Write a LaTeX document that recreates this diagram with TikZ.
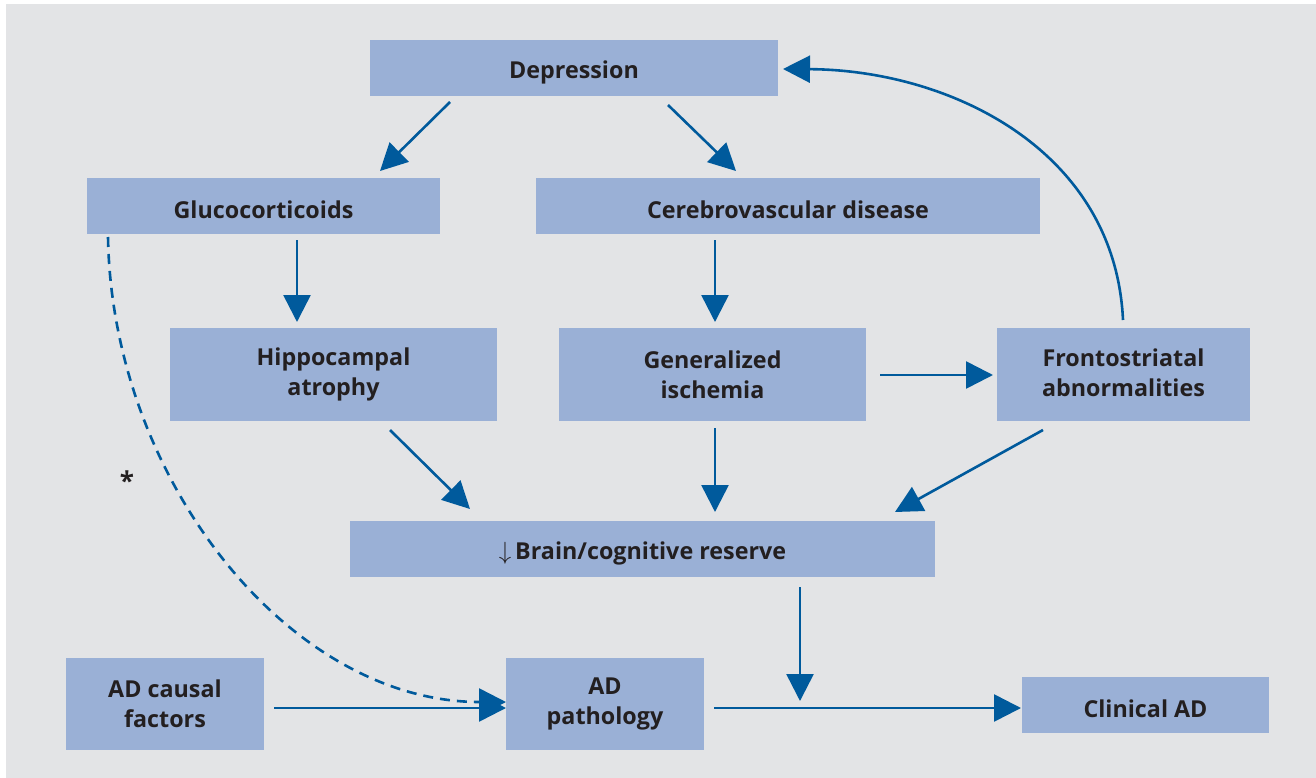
\documentclass[tikz,border=0pt]{standalone}
\usepackage{fontspec}
\setmainfont{Open Sans}
\usetikzlibrary{arrows.meta,calc}
\definecolor{bg}{HTML}{E3E4E6}
\definecolor{boxc}{HTML}{9AB0D6}
\definecolor{arrc}{HTML}{005A9C}
\definecolor{txt}{HTML}{231F20}
\newcommand{\lowr}[1]{\raisebox{-4pt}[\height][\depth]{#1}}
\tikzset{
  box/.style={fill=boxc, inner sep=0pt, align=center, text=txt,
    font=\bfseries\fontsize{23.3}{30}\selectfont},
  arr/.style={draw=arrc, line width=2.6pt, -{Triangle[length=27pt,width=27pt]}},
  dash arr/.style={draw=arrc, line width=2.6pt, dash pattern=on 10pt off 7pt,
    -{Triangle[length=27pt,width=27pt]}}
}
\begin{document}
\begin{tikzpicture}[x=1pt,y=-1pt]
\useasboundingbox (0,0) rectangle (1316,778);
\fill[white] (0,0) rectangle (1316,778);
\fill[bg] (6,4) rectangle (1316,778);

\node[box, minimum width=408pt, minimum height=56pt] (dep) at (574,68) {\lowr{Depression}};
\node[box, minimum width=353pt, minimum height=56pt] (glu) at (263.5,206) {\lowr{Glucocorticoids}};
\node[box, minimum width=504pt, minimum height=56pt] (cer) at (788,206) {\lowr{Cerebrovascular disease}};
\node[box, minimum width=327pt, minimum height=93pt] (hip) at (333.5,374.5) {Hippocampal\\atrophy};
\node[box, minimum width=307pt, minimum height=93pt] (gen) at (712.5,374.5) {Generalized\\ischemia};
\node[box, minimum width=253pt, minimum height=93pt] (fro) at (1123.5,374.5) {\raisebox{2pt}[\height][\depth]{Frontostriatal}\\\raisebox{2pt}[\height][\depth]{abnormalities}};
\node[box, minimum width=585pt, minimum height=56pt] (bra) at (642.5,549) {\lowr{{\fontsize{28}{28}\selectfont$\downarrow$}\,Brain/cognitive reserve}};
\node[box, minimum width=198pt, minimum height=92pt] (adc) at (165,704) {AD causal\\factors};
\node[box, minimum width=198pt, minimum height=92pt] (adp) at (605,704) {AD\\pathology};
\node[box, minimum width=247pt, minimum height=56pt] (cli) at (1145.5,705) {\lowr{Clinical AD}};
\node[text=txt, font=\bfseries\fontsize{26}{26}\selectfont] (ast) at (127,481) {*};

% connector end points
\coordinate (d1) at (450,102);  \coordinate (g1) at (380,171);
\coordinate (d2) at (668,105);  \coordinate (c1) at (736,171);
\coordinate (g2) at (297,240);  \coordinate (h1) at (297,322);
\coordinate (c2) at (715,240);  \coordinate (e1) at (715,322);
\coordinate (e2) at (880,375);  \coordinate (f1) at (993,375);
\coordinate (h2) at (390,430);  \coordinate (b1) at (470,509);
\coordinate (e3) at (715,428);  \coordinate (b2) at (715,512);
\coordinate (f2) at (1043,430); \coordinate (b3) at (895,512);
\coordinate (f3) at (1123,320); \coordinate (d3) at (783,69);
\coordinate (b4) at (800,587);  \coordinate (j1) at (800,701);
\coordinate (a1) at (274,708);  \coordinate (p1) at (506,708);
\coordinate (p2) at (714,708);  \coordinate (k1) at (1021,708);
\coordinate (g3) at (108,237);  \coordinate (p3) at (506,702);

\draw[arr] (d1) -- (g1);
\draw[arr] (d2) -- (c1);
\draw[arr] (g2) -- (h1);
\draw[arr] (c2) -- (e1);
\draw[arr] (e2) -- (f1);
\draw[arr] (h2) -- (b1);
\draw[arr] (e3) -- (b2);
\draw[arr] (f2) -- (b3);
\draw[arr] (f3) .. controls (1115,150) and (950,70) .. (d3);
\draw[arr] (b4) -- (j1);
\draw[arr] (a1) -- (p1);
\draw[arr] (p2) -- (k1);
\draw[dash arr] (g3) .. controls (112,480) and (290,702) .. (p3);
\end{tikzpicture}
\end{document}
